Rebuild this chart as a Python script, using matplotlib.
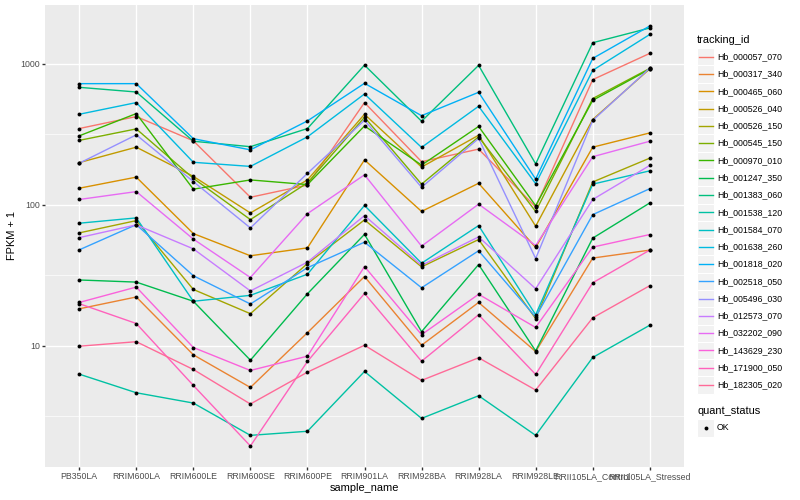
import numpy as np
import matplotlib
matplotlib.use("Agg")
import matplotlib.pyplot as plt
from matplotlib.patches import Rectangle
from matplotlib.lines import Line2D

plt.rcParams["font.family"] = ["Liberation Sans", "DejaVu Sans"]

samples = ["PB350LA", "RRIM600LA", "RRIM600LE", "RRIM600SE", "RRIM600PE", "RRIM901LA",
           "RRIM928BA", "RRIM928LA", "RRIM928LE", "RRII105LA_Control", "RRII105LA_Stressed"]
tracking_ids = ["Hb_000057_070", "Hb_000317_340", "Hb_000465_060", "Hb_000526_040",
                "Hb_000526_150", "Hb_000545_150", "Hb_000970_010", "Hb_001247_350",
                "Hb_001383_060", "Hb_001538_120", "Hb_001584_070", "Hb_001638_260",
                "Hb_001818_020", "Hb_002518_050", "Hb_005496_030", "Hb_012573_070",
                "Hb_032202_090", "Hb_143629_230", "Hb_171900_050", "Hb_182305_020"]

# FPKM + 1, one value per sample (same order as samples)
hb_000057_070 = [347, 422, 284, 113, 138, 530, 202, 248, 96.5, 771, 1183]
hb_000317_340 = [18.3, 22.2, 8.64, 5.07, 12.4, 31.0, 10.1, 20.3, 9.11, 41.9, 47.7]
hb_000465_060 = [131, 157, 62.5, 43.5, 49.5, 208, 89.7, 142, 49.8, 256, 323]
hb_000526_040 = [199, 256, 159, 87.5, 150, 438, 185, 311, 70.5, 402, 919]
hb_000526_150 = [63.2, 77.2, 25.1, 16.9, 38.3, 78.1, 36.3, 56.7, 15.6, 145, 214]
hb_000545_150 = [286, 345, 154, 78.5, 143, 417, 140, 303, 89.7, 566, 926]
hb_000970_010 = [308, 443, 129, 150, 139, 362, 191, 359, 98.5, 550, 915]
hb_001247_350 = [29.3, 28.3, 20.7, 7.91, 23.4, 61.7, 12.6, 37.7, 9.2, 58.0, 103]
hb_001383_060 = [680, 630, 282, 258, 347, 977, 391, 973, 195, 1408, 1791]
hb_001538_120 = [6.30, 4.65, 3.93, 2.32, 2.48, 6.58, 3.06, 4.43, 2.32, 8.27, 14.0]
hb_001584_070 = [74.0, 80.7, 20.7, 22.8, 32.2, 98.9, 38.5, 71.2, 16.6, 140, 174]
hb_001638_260 = [438, 530, 200, 187, 303, 610, 255, 499, 141, 897, 1611]
hb_001818_020 = [722, 722, 294, 245, 393, 726, 428, 627, 152, 1090, 1850]
hb_002518_050 = [47.9, 72.3, 31.4, 19.8, 35.8, 54.3, 25.8, 47.2, 16.0, 85.1, 130]
hb_005496_030 = [197, 313, 146, 68.5, 167, 397, 133, 295, 41.6, 396, 930]
hb_012573_070 = [58.5, 72.0, 48.7, 24.5, 39.2, 83.8, 37.2, 59.2, 25.4, 109, 190]
hb_032202_090 = [109, 124, 57.1, 30.5, 86.5, 163, 50.9, 101, 51.4, 219, 282]
hb_143629_230 = [20.3, 26.1, 9.73, 6.69, 8.45, 36.5, 12.0, 23.2, 13.5, 50.1, 61.5]
hb_171900_050 = [19.9, 14.4, 5.24, 1.95, 7.75, 23.5, 7.78, 16.6, 6.27, 28.0, 47.7]
hb_182305_020 = [9.94, 10.7, 6.80, 3.87, 6.51, 10.1, 5.69, 8.23, 4.86, 15.8, 26.7]

series = [hb_000057_070, hb_000317_340, hb_000465_060, hb_000526_040, hb_000526_150,
          hb_000545_150, hb_000970_010, hb_001247_350, hb_001383_060, hb_001538_120,
          hb_001584_070, hb_001638_260, hb_001818_020, hb_002518_050, hb_005496_030,
          hb_012573_070, hb_032202_090, hb_143629_230, hb_171900_050, hb_182305_020]
quant_levels = ["OK"]


def hcl_rgb(h, c=100, l=65):
    """polar LUV -> sRGB, same as R's hcl()"""
    wx, wy, wz = 95.047, 100.0, 108.883
    den = wx + 15 * wy + 3 * wz
    un, vn = 4 * wx / den, 9 * wy / den
    hr = np.deg2rad(h)
    U, V = c * np.cos(hr), c * np.sin(hr)
    Y = wy * ((l + 16) / 116) ** 3
    u = U / (13 * l) + un
    v = V / (13 * l) + vn
    X = 9 * Y * u / (4 * v)
    Z = -X / 3 - 5 * Y + 3 * Y / v
    lin = [(3.240479 * X - 1.537150 * Y - 0.498535 * Z) / wy,
           (-0.969256 * X + 1.875992 * Y + 0.041556 * Z) / wy,
           (0.055648 * X - 0.204043 * Y + 1.057311 * Z) / wy]
    out = []
    for t in lin:
        t = 1.055 * t ** (1 / 2.4) - 0.055 if t > 0.00304 else 12.92 * t
        out.append(min(max(t, 0.0), 1.0))
    return tuple(out)


def hue_pal(n):
    hues = np.linspace(15, 375 - 360 / n, n) % 360
    return [hcl_rgb(h) for h in hues]


colors = hue_pal(len(tracking_ids))

W, H = 800, 500
def fx(px): return px / W
def fy(py): return 1 - py / H

PX = 72 / 100  # ggplot px (72 dpi) -> points at 100 dpi
LBL = 8.8 * PX
TTL = 11 * PX

fig = plt.figure(figsize=(8, 5), dpi=100)
ax = fig.add_axes([fx(45), fy(467), fx(684) - fx(45), fy(5) - fy(467)])
ax.set_facecolor("#EBEBEB")
for sp in ax.spines.values():
    sp.set_visible(False)

x = np.arange(1, len(samples) + 1)
for vals, col in zip(series, colors):
    ax.plot(x, vals, color=col, lw=1.0, zorder=3, solid_capstyle="butt")
for vals in series:
    ax.plot(x, vals, "o", color="black", ms=2.8, mec="black", mew=0, zorder=4)

ax.set_yscale("log")
ax.set_yticks([10, 100, 1000])
ax.set_yticklabels(["10", "100", "1000"])
ax.set_yticks([10 ** 0.5, 10 ** 1.5, 10 ** 2.5], minor=True)
ax.set_yticklabels([], minor=True)
ax.set_xticks(x)
ax.set_xticklabels(samples)

# ggplot-style 5% expansion on the log scale (set after ticks so they don't widen it)
allv = np.log10(np.concatenate([np.asarray(s, float) for s in series]))
lo, hi = allv.min(), allv.max()
pad = 0.05 * (hi - lo)
ax.set_ylim(10 ** (lo - pad), 10 ** (hi + pad))
ax.set_xlim(0.4, len(samples) + 0.6)

ax.tick_params(which="major", length=2.75 * PX, width=1.0, color="#333333",
               labelsize=LBL, labelcolor="#4D4D4D", pad=2.2 * PX)
ax.tick_params(which="minor", length=0)
ax.grid(which="major", color="white", lw=1.0)
ax.grid(which="minor", axis="y", color="white", lw=0.5)
ax.set_axisbelow(True)

fig.text(fx(364.5), fy(488), "sample_name", ha="center", va="center", fontsize=TTL)
fig.text(fx(12), fy(236), "FPKM + 1", ha="center", va="center", rotation=90, fontsize=TTL)

# legend: tracking_id
key = 17.28
kx = 697
fig.text(fx(kx), fy(40), "tracking_id", ha="left", va="center", fontsize=TTL)
for i, (tid, col) in enumerate(zip(tracking_ids, colors)):
    cy = 56.7 + key * i
    fig.add_artist(Rectangle((fx(kx), fy(cy + key / 2)), key / W, key / H,
                             transform=fig.transFigure, facecolor="#F2F2F2",
                             edgecolor="white", lw=0.8))
    fig.add_artist(Line2D([fx(kx + 0.1 * key), fx(kx + 0.9 * key)], [fy(cy), fy(cy)],
                          transform=fig.transFigure, color=col, lw=1.0))
    fig.text(fx(717), fy(cy), tid, ha="left", va="center", fontsize=LBL)

# legend: quant_status
fig.text(fx(kx), fy(411), "quant_status", ha="left", va="center", fontsize=TTL)
for i, q in enumerate(quant_levels):
    cy = 428 + key * i
    fig.add_artist(Rectangle((fx(kx), fy(cy + key / 2)), key / W, key / H,
                             transform=fig.transFigure, facecolor="#F2F2F2",
                             edgecolor="white", lw=0.8))
    fig.add_artist(Line2D([fx(kx + key / 2)], [fy(cy)], transform=fig.transFigure,
                          marker="o", ms=2.8, color="black", mew=0, lw=0))
    fig.text(fx(717), fy(cy), q, ha="left", va="center", fontsize=LBL)

fig.savefig("out.png", dpi=100)
